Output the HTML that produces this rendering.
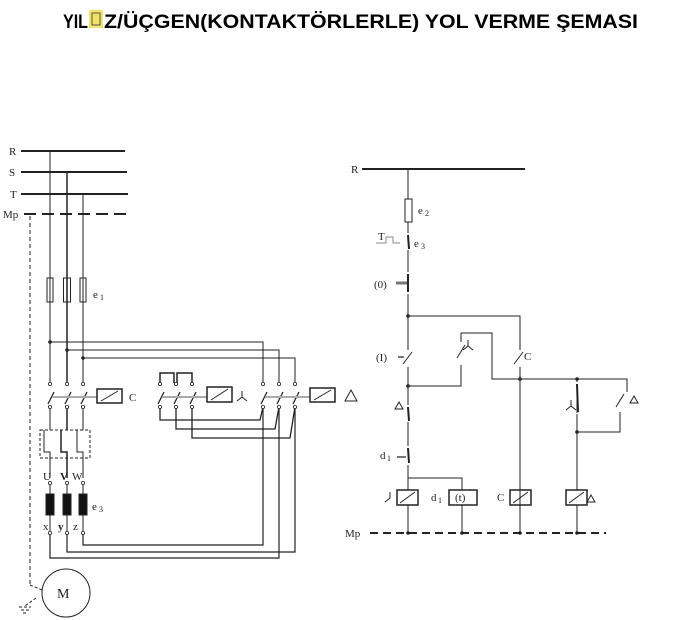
<!DOCTYPE html>
<html><head><meta charset="utf-8"><style>
html,body{margin:0;padding:0;background:#fff}
svg{display:block}
text{font-family:"Liberation Serif",serif;fill:#222}
</style></head><body>
<svg width="700" height="620" viewBox="0 0 700 620" xmlns="http://www.w3.org/2000/svg">
<g font-family="Liberation Sans" font-weight="bold">
<text x="63" y="28" font-size="19" style="font-family:'Liberation Sans',sans-serif;fill:#000" textLength="25" lengthAdjust="spacingAndGlyphs">YIL</text>
<rect x="89" y="10" width="14" height="18" fill="#f2e36a"/>
<rect x="92" y="13" width="8" height="12" fill="none" stroke="#555" stroke-width="1"/>
<text x="104" y="28" font-size="19" style="font-family:'Liberation Sans',sans-serif;fill:#000" textLength="534" lengthAdjust="spacingAndGlyphs">Z/ÜÇGEN(KONTAKTÖRLERLE) YOL VERME ŞEMASI</text>
</g>
<g stroke="#222" fill="none" stroke-width="1">
<line x1="21" y1="151" x2="125" y2="151" stroke-width="2"/>
<line x1="21" y1="172" x2="127" y2="172" stroke-width="2"/>
<line x1="21" y1="194" x2="128" y2="194" stroke-width="2"/>
<line x1="24" y1="214" x2="130" y2="214" stroke-width="2" stroke-dasharray="12,6"/>
<line x1="30" y1="216" x2="30" y2="585" stroke-dasharray="4,3"/>
<line x1="50" y1="151" x2="50" y2="384"/>
<line x1="67" y1="172" x2="67" y2="384" stroke-width="1.5"/>
<line x1="83" y1="194" x2="83" y2="384"/>
<rect x="47" y="278" width="6" height="24"/><rect x="63.5" y="278" width="7" height="24"/><rect x="80" y="278" width="6" height="24"/>
<path d="M50 342H263V384M67 350H279V384M83 358H295V384"/>
<path d="M50 407V430M44 430V452H50V478"/>
<path d="M67 407V430M61 430V452H67V478" stroke-width="1.5"/>
<path d="M83 407V430M77 430V452H83V478"/>
<path d="M54 392L48 404M71 392L65 404M87 392L81 404" stroke-width="1.3"/>
<line x1="52" y1="397" x2="97" y2="397" stroke="#aaa" stroke-width="2"/>
<rect x="97" y="389" width="25" height="14" stroke-width="1.5"/><line x1="101" y1="401" x2="118" y2="391"/>
<rect x="40" y="430" width="50" height="28" stroke-dasharray="3,2"/>
<path d="M160 383V373H174V383M177 383V373H192V383" stroke-width="1.5"/>
<path d="M164 392L158 404M180 392L174 404M196 392L190 404" stroke-width="1.3"/>
<line x1="162" y1="397" x2="207" y2="397" stroke="#aaa" stroke-width="2"/>
<rect x="207" y="387" width="25" height="15" stroke-width="1.5"/><line x1="211" y1="400" x2="228" y2="389"/>
<path d="M160 407V420H260L263 407M176 407V429H275L279 407M192 407V438H290L295 407" stroke-width="1.3"/>
<path d="M267 392L261 404M283 392L277 404M299 392L293 404" stroke-width="1.3"/>
<line x1="265" y1="397" x2="310" y2="397" stroke="#aaa" stroke-width="2"/>
<rect x="310" y="388" width="25" height="14" stroke-width="1.5"/><line x1="314" y1="400" x2="331" y2="390"/>
<path d="M263 407V545H83V533M279 407V558H50V533M295 407V552H67V533" stroke-width="1.2"/>
<rect x="46" y="494" width="8" height="21" fill="#111"/><rect x="63" y="494" width="8" height="21" fill="#111"/><rect x="79" y="494" width="8" height="21" fill="#111"/>
<path d="M50 483V494M67 483V494M83 483V494M50 515V533M67 515V533M83 515V533"/>
<circle cx="66" cy="593" r="24"/>
<path d="M30 585L42 590M36 598L25 606M19 607H31M21 610H29M23 613H27" stroke-dasharray="3,2"/>
<line x1="362" y1="169" x2="525" y2="169" stroke-width="2"/>
<path d="M408 169V199M408 222V233M408 250V272M408 294V350M408 367V405M408 422V446M408 465V490M408 505V533"/>
<rect x="405" y="199" width="7" height="23"/>
<path d="M408 235L409 249" stroke-width="2"/>
<path d="M376 243H386V237H393V243H400" stroke="#888"/>
<path d="M408 274V292" stroke-width="2"/><path d="M396 283H407" stroke="#777" stroke-width="3"/>
<path d="M408 316H520V350M520 367V533"/>
<path d="M412 352L403 364M465 345L457 358M523 352L514 364"/>
<path d="M398 357H404" stroke="#777" stroke-width="2"/>
<path d="M461 342V333H492V379H627V392M461 365V386H408"/>
<path d="M577 379V382M577 399V413M577 414V490M577 505V533M577 432H620V412" />
<path d="M577 384L578 412" stroke-width="2"/>
<path d="M624 394L616 407"/>
<path d="M408 407L409 421M408 448L409 463" stroke-width="2"/>
<path d="M397 457H406" stroke="#777" stroke-width="2"/>
<path d="M408 478H462V490M462 505V533"/>
<rect x="397" y="490" width="21" height="15" stroke-width="1.5"/><line x1="400" y1="503" x2="415" y2="492"/>
<rect x="449" y="490" width="28" height="15" stroke-width="1.5"/>
<rect x="510" y="490" width="21" height="15" stroke-width="1.5"/><line x1="513" y1="503" x2="528" y2="492"/>
<rect x="566" y="490" width="21" height="15" stroke-width="1.5"/><line x1="569" y1="503" x2="584" y2="492"/>
<line x1="370" y1="533" x2="606" y2="533" stroke-width="2" stroke-dasharray="8,5"/>
<path d="M242 391V397L237 401M242 397L247 401M468 340V346L463 350M468 346L473 350M571 400V406L566 410M571 406L576 410M390 492V498L385 502"/>
<path d="M345 401L351 390L357 401Z M395 409L399 402L403 409Z M630 403L634 396L638 403Z M587 502L591 495L595 502Z"/>
</g>
<g fill="#fff" stroke="#222" stroke-width="0.8">
<circle cx="50" cy="384" r="1.6"/><circle cx="67" cy="384" r="1.6"/><circle cx="83" cy="384" r="1.6"/>
<circle cx="50" cy="407" r="1.6"/><circle cx="67" cy="407" r="1.6"/><circle cx="83" cy="407" r="1.6"/>
<circle cx="160" cy="384" r="1.6"/><circle cx="176" cy="384" r="1.6"/><circle cx="192" cy="384" r="1.6"/>
<circle cx="160" cy="407" r="1.6"/><circle cx="176" cy="407" r="1.6"/><circle cx="192" cy="407" r="1.6"/>
<circle cx="263" cy="384" r="1.6"/><circle cx="279" cy="384" r="1.6"/><circle cx="295" cy="384" r="1.6"/>
<circle cx="263" cy="407" r="1.6"/><circle cx="279" cy="407" r="1.6"/><circle cx="295" cy="407" r="1.6"/>
<circle cx="50" cy="483" r="1.6"/><circle cx="67" cy="483" r="1.6"/><circle cx="83" cy="483" r="1.6"/>
<circle cx="50" cy="533" r="1.6"/><circle cx="67" cy="533" r="1.6"/><circle cx="83" cy="533" r="1.6"/>
</g>
<g fill="#222">
<circle cx="50" cy="342" r="1.8"/><circle cx="67" cy="350" r="1.8"/><circle cx="83" cy="358" r="1.8"/>
<circle cx="408" cy="316" r="1.8"/><circle cx="408" cy="386" r="1.8"/><circle cx="520" cy="379" r="1.8"/><circle cx="577" cy="379" r="1.8"/><circle cx="577" cy="432" r="1.8"/>
<circle cx="408" cy="533" r="1.8"/><circle cx="462" cy="533" r="1.8"/><circle cx="520" cy="533" r="1.8"/><circle cx="577" cy="533" r="1.8"/>
</g>
<g font-size="11">
<text x="9" y="155">R</text><text x="9" y="176">S</text><text x="10" y="198">T</text><text x="3" y="218">Mp</text>
<text x="93" y="298">e</text><text x="100" y="300" font-size="8">1</text>
<text x="129" y="401">C</text>
<text x="43" y="480">U</text><text x="60" y="480" font-weight="bold">V</text><text x="72" y="480">W</text>
<text x="92" y="510">e</text><text x="99" y="512" font-size="8">3</text>
<text x="43" y="530">x</text><text x="58" y="530" font-weight="bold">y</text><text x="73" y="530">z</text>
<text x="57" y="598" font-size="14">M</text>
<text x="351" y="173">R</text>
<text x="418" y="214">e</text><text x="425" y="216" font-size="8">2</text>
<text x="378" y="240">T</text>
<text x="414" y="247">e</text><text x="421" y="249" font-size="8">3</text>
<text x="374" y="288">(0)</text>
<text x="376" y="361">(I)</text>
<text x="524" y="360">C</text>
<text x="380" y="459">d</text><text x="387" y="461" font-size="8">1</text>
<text x="431" y="501">d</text><text x="438" y="503" font-size="8">1</text>
<text x="455" y="501">(t)</text>
<text x="497" y="501">C</text>
<text x="345" y="537">Mp</text>
</g>
</svg>
</body></html>
